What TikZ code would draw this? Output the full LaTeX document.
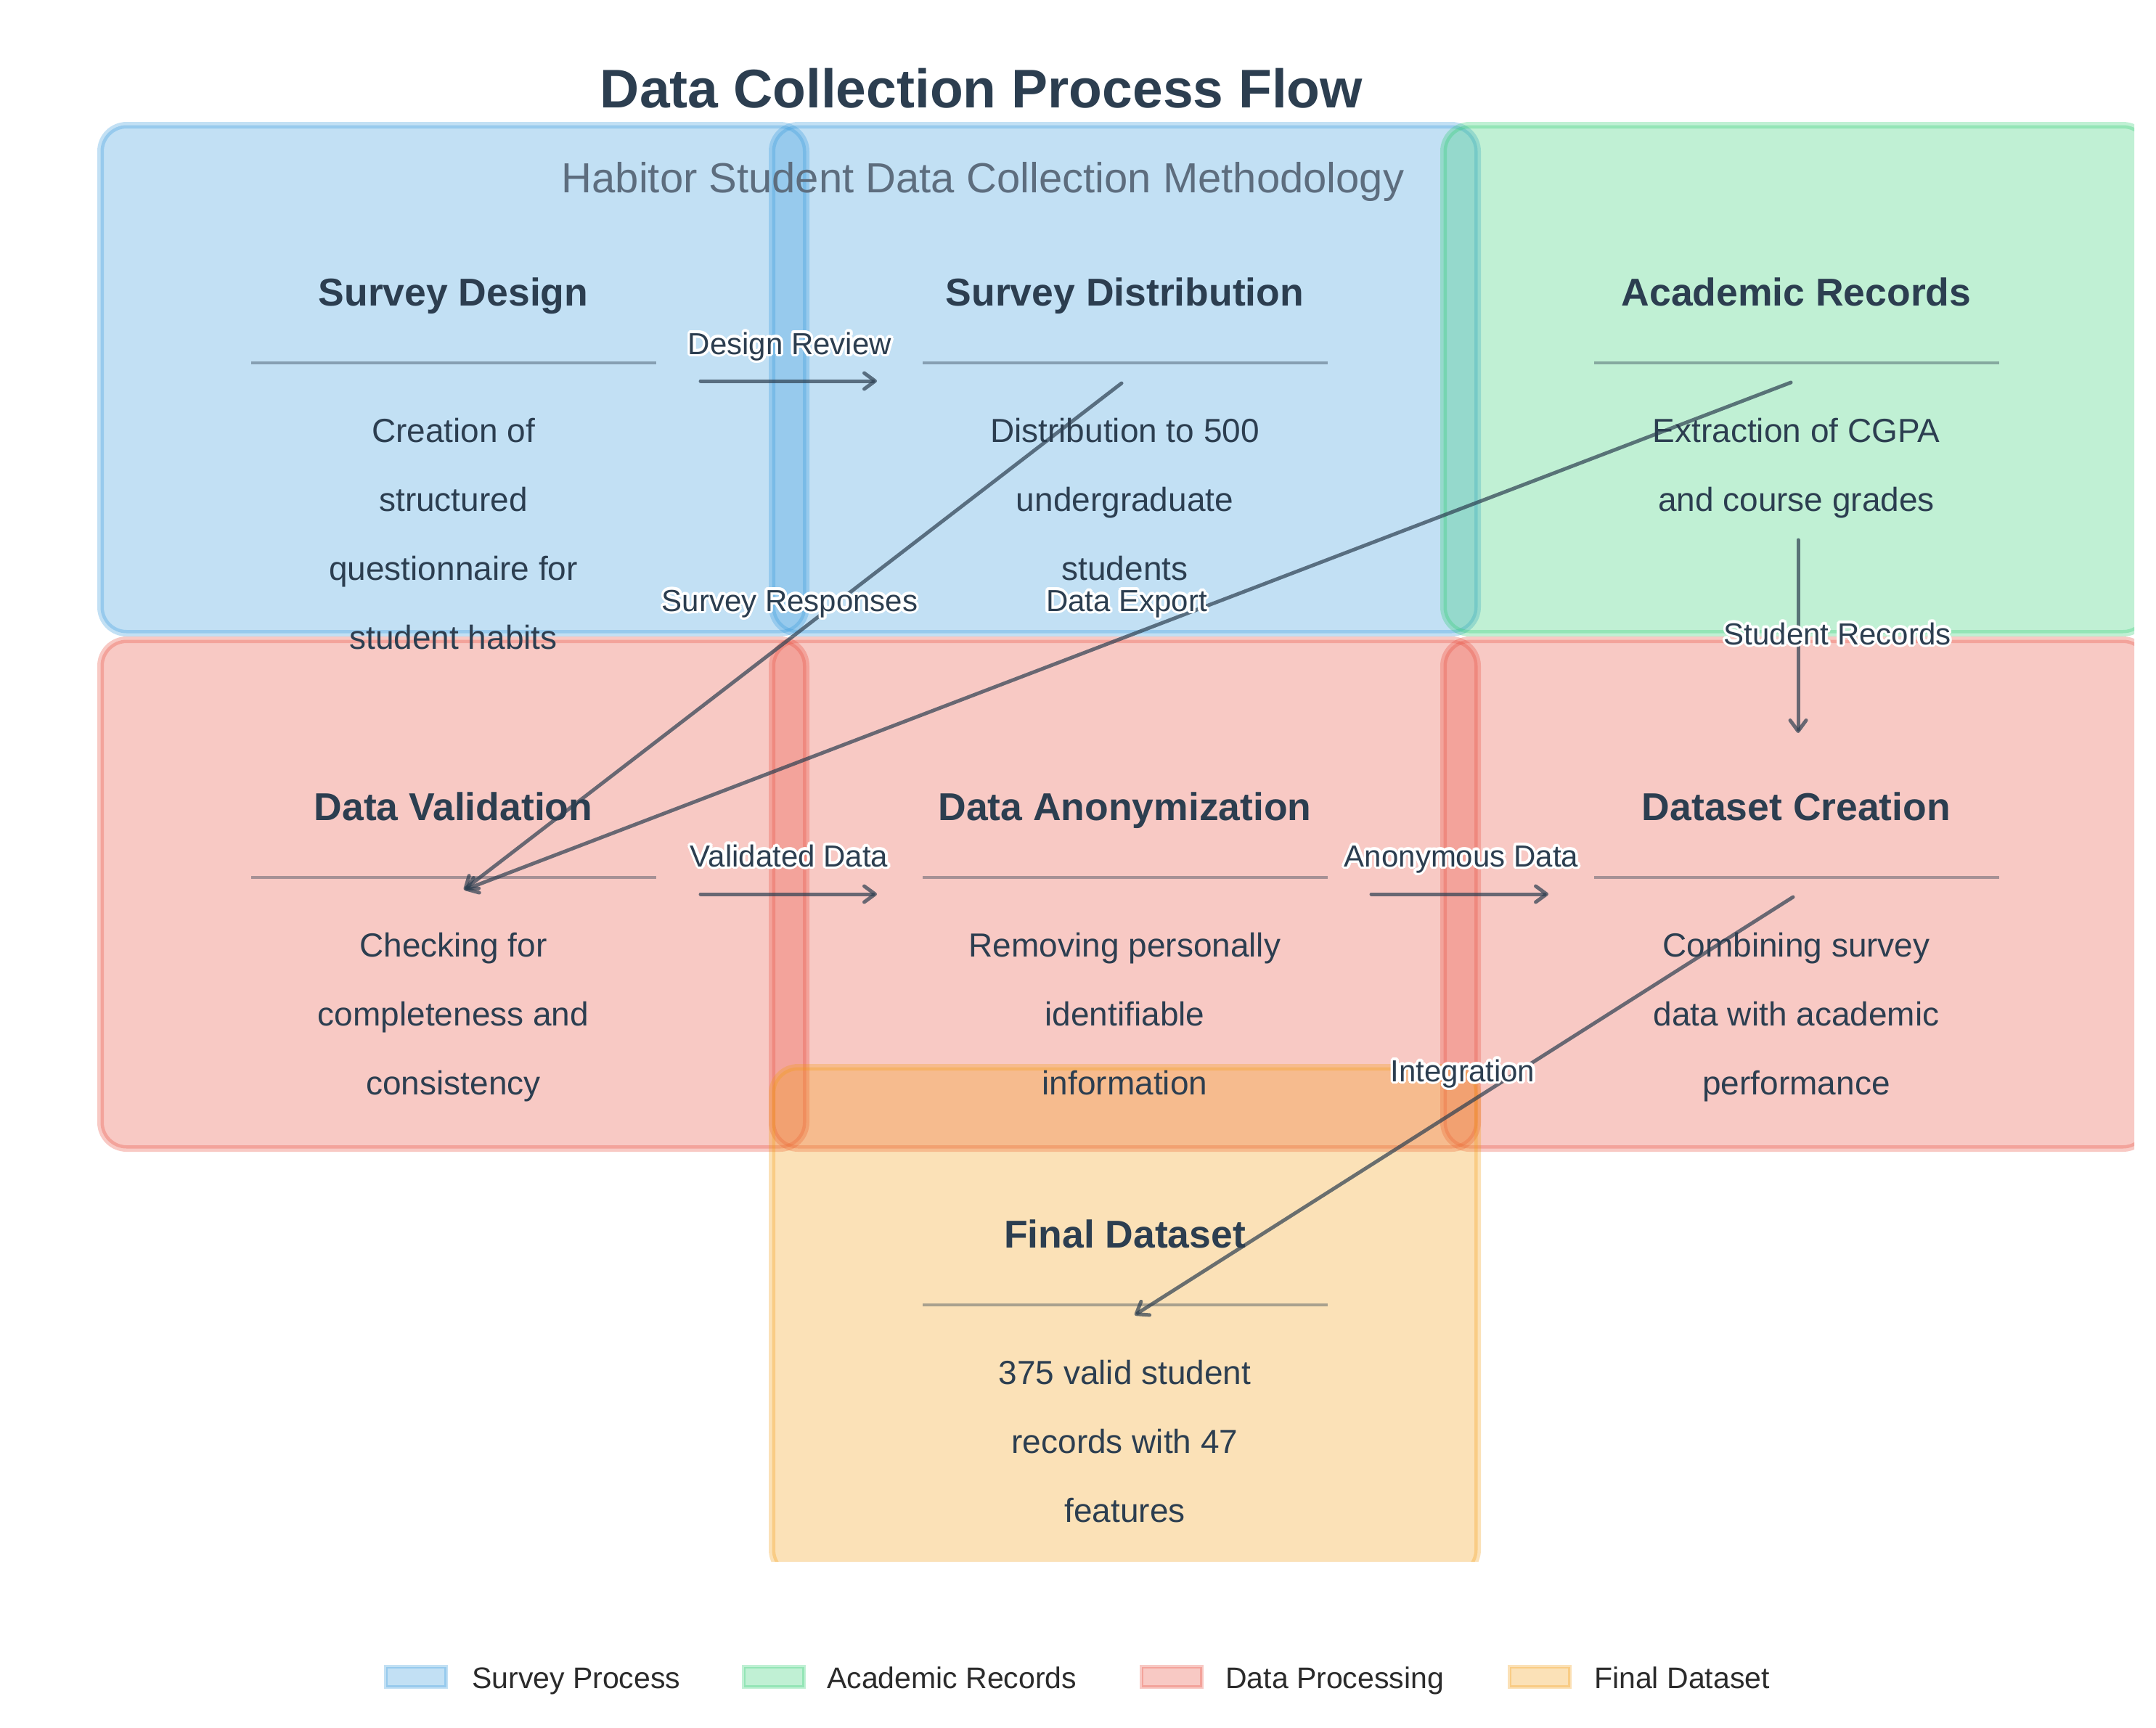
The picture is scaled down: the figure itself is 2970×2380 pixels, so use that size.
\documentclass[tikz,border=0pt]{standalone}
\usepackage{fontspec}
\setmainfont{Liberation Sans}
\usetikzlibrary{arrows.meta}
\definecolor{dark}{HTML}{2C3E50}
\definecolor{subc}{HTML}{5D6D7E}
\definecolor{blueC}{HTML}{3498DB}
\definecolor{greenC}{HTML}{2ECC71}
\definecolor{redC}{HTML}{E74C3C}
\definecolor{orangeC}{HTML}{F39C12}
\definecolor{legtext}{HTML}{2B2B2B}
\tikzset{
  procbox/.style={fill=#1, draw=#1, fill opacity=0.3, draw opacity=0.3, line width=9pt, rounded corners=36pt},
  legbox/.style={fill=#1, draw=#1, fill opacity=0.3, draw opacity=0.3, line width=5pt},
  divider/.style={draw=dark, draw opacity=0.4, line width=4pt},
  heading/.style={anchor=base, inner sep=0pt, text=dark, font=\bfseries\fontsize{53.5}{64}\selectfont},
  body/.style={anchor=base, inner sep=0pt, text=dark, font=\fontsize{46}{55}\selectfont},
  elbl/.style={anchor=base, inner sep=0pt, text=dark, font=\fontsize{42}{50}\selectfont},
  legtxt/.style={anchor=base west, inner sep=0pt, text=legtext, font=\fontsize{41}{49}\selectfont},
  flow/.style={draw=dark, draw opacity=0.7, line width=5pt, line cap=round,
    -{Straight Barb[length=15pt,width=22pt,line cap=round,line join=round]}}
}
\newcommand\elabel[4]{%
  \foreach \a in {0,22.5,...,337.5}{\node[elbl,text=white] at ({#2+3.5*cos(\a)},{#3+3.5*sin(\a)}) {#4};}
  \node[elbl] (#1) at (#2,#3) {#4};}
\begin{document}
\begin{tikzpicture}[x=1pt,y=-1pt]
\useasboundingbox (0,0) rectangle (2970,2380);
% boxes
\begin{scope}
\clip (0,0) rectangle (2940,2151);
\path[procbox=blueC]  (138.5,172.5) rectangle (1110.5,872.5);
\path[procbox=blueC]  (1063.5,172.5) rectangle (2035.5,872.5);
\path[procbox=greenC] (1988.5,172.5) rectangle (2960.5,872.5);
\path[procbox=redC]   (138.5,881.5) rectangle (1110.5,1582.5);
\path[procbox=redC]   (1063.5,881.5) rectangle (2035.5,1582.5);
\path[procbox=redC]   (1988.5,881.5) rectangle (2960.5,1582.5);
\path[procbox=orangeC] (1063.5,1470.5) rectangle (2035.5,2171.5);
\end{scope}
% dividers
\draw[divider] (346,500) -- (904,500);
\draw[divider] (1271,500) -- (1829,500);
\draw[divider] (2196,500) -- (2754,500);
\draw[divider] (346,1209) -- (904,1209);
\draw[divider] (1271,1209) -- (1829,1209);
\draw[divider] (2196,1209) -- (2754,1209);
\draw[divider] (1271,1798) -- (1829,1798);
% title
\node[anchor=base, inner sep=0pt, text=dark, font=\bfseries\fontsize{75}{90}\selectfont] (title) at (1352,148) {Data Collection Process Flow};
\node[anchor=base, inner sep=0pt, text=subc, font=\fontsize{58}{70}\selectfont] (subtitle) at (1354,265) {Habitor Student Data Collection Methodology};
% headings
\node[heading] (h1) at (624.5,421) {Survey Design};
\node[heading] (h2) at (1549.5,421) {Survey Distribution};
\node[heading] (h3) at (2474.5,421) {Academic Records};
\node[heading] (h4) at (624.5,1130) {Data Validation};
\node[heading] (h5) at (1549.5,1130) {Data Anonymization};
\node[heading] (h6) at (2474.5,1130) {Dataset Creation};
\node[heading] (h7) at (1549.5,1719) {Final Dataset};
% body texts
\node[body] (b1a) at (624.5,609) {Creation of};
\node[body] (b1b) at (624.5,704) {structured};
\node[body] (b1c) at (624.5,799) {questionnaire for};
\node[body] (b1d) at (624.5,894) {student habits};
\node[body] (b2a) at (1549.5,609) {Distribution to 500};
\node[body] (b2b) at (1549.5,704) {undergraduate};
\node[body] (b2c) at (1549.5,799) {students};
\node[body] (b3a) at (2474.5,609) {Extraction of CGPA};
\node[body] (b3b) at (2474.5,704) {and course grades};
\node[body] (b4a) at (624.5,1318) {Checking for};
\node[body] (b4b) at (624.5,1413) {completeness and};
\node[body] (b4c) at (624.5,1508) {consistency};
\node[body] (b5a) at (1549.5,1318) {Removing personally};
\node[body] (b5b) at (1549.5,1413) {identifiable};
\node[body] (b5c) at (1549.5,1508) {information};
\node[body] (b6a) at (2474.5,1318) {Combining survey};
\node[body] (b6b) at (2474.5,1413) {data with academic};
\node[body] (b6c) at (2474.5,1508) {performance};
\node[body] (b7a) at (1549.5,1907) {375 valid student};
\node[body] (b7b) at (1549.5,2002) {records with 47};
\node[body] (b7c) at (1549.5,2097) {features};
% arrow end points
\coordinate (drS) at (965,525);   \coordinate (drE) at (1208,525);
\coordinate (srS) at (1545,528);  \coordinate (srE) at (639,1226);
\coordinate (deS) at (2467,527);  \coordinate (deE) at (640,1226);
\coordinate (stS) at (2477,744);  \coordinate (stE) at (2477,1010);
\coordinate (vdS) at (965,1232);  \coordinate (vdE) at (1208,1232);
\coordinate (adS) at (1889,1232); \coordinate (adE) at (2133,1232);
\coordinate (inS) at (2470,1236); \coordinate (inE) at (1563,1812);
\draw[flow] (drS) -- (drE);
\draw[flow] (srS) -- (srE);
\draw[flow] (deS) -- (deE);
\draw[flow] (stS) -- (stE);
\draw[flow] (vdS) -- (vdE);
\draw[flow] (adS) -- (adE);
\draw[flow] (inS) -- (inE);
% arrow labels
\elabel{l1}{1088}{488}{Design Review}
\elabel{l2}{1088}{842}{Survey Responses}
\elabel{l3}{1552}{842}{Data Export}
\elabel{l4}{2531}{888}{Student Records}
\elabel{l5}{1087}{1194}{Validated Data}
\elabel{l6}{2013}{1194}{Anonymous Data}
\elabel{l7}{2015}{1490}{Integration}
% legend
\path[legbox=blueC]   (531.5,2296.5) rectangle (614.5,2324.5);
\node[legtxt] (lg1) at (650,2326) {Survey Process};
\path[legbox=greenC]  (1024.5,2296.5) rectangle (1107.5,2324.5);
\node[legtxt] (lg2) at (1139,2326) {Academic Records};
\path[legbox=redC]    (1572.5,2296.5) rectangle (1655.5,2324.5);
\node[legtxt] (lg3) at (1688,2326) {Data Processing};
\path[legbox=orangeC] (2079.5,2296.5) rectangle (2162.5,2324.5);
\node[legtxt] (lg4) at (2196,2326) {Final Dataset};
\end{tikzpicture}
\end{document}
